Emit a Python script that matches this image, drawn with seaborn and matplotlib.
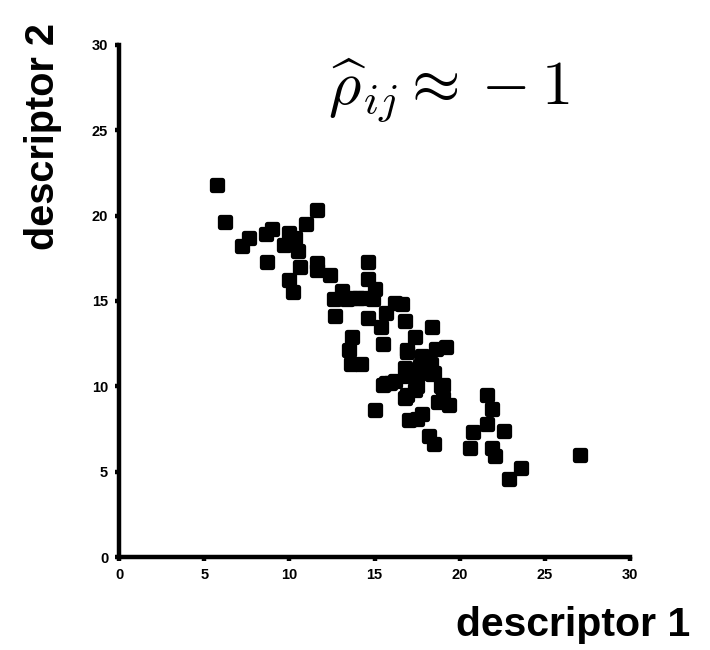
import matplotlib
matplotlib.use("Agg")
import matplotlib.pyplot as plt
from matplotlib.markers import MarkerStyle
import seaborn as sns
import pandas as pd

descriptor_1 = [5.75, 6.2, 7.2, 7.6, 8.6, 9.0, 8.7, 11.6, 11.0, 10.0, 10.3, 9.7, 10.5, 10.6,
                11.6, 11.6, 10.0, 10.2, 12.4, 14.6, 14.6, 15.0, 13.1, 12.6, 13.7, 14.3, 14.9,
                16.2, 16.6, 12.7, 14.6, 15.7, 15.4, 16.8, 18.4, 17.4, 13.7, 13.5, 15.5, 16.9,
                17.8, 18.6, 19.2, 13.6, 14.2, 16.8, 17.7, 18.3, 15.7, 16.2, 16.9, 17.5, 18.5,
                19.0, 16.9, 19.0, 16.9, 17.9, 18.4, 17.6, 15.9, 15.5, 18.9, 17.4, 16.8, 18.75,
                19.4, 17.8, 17.0, 17.5, 18.2, 18.5, 21.6, 21.9, 21.6, 22.6, 20.8, 20.6, 21.9,
                22.1, 23.6, 22.9, 27.1, 15.0, 13.4, 14.0]
descriptor_2 = [21.8, 19.6, 18.2, 18.7, 18.9, 19.2, 17.3, 20.3, 19.5, 19.0, 18.7, 18.3, 17.9, 17.0,
                17.2, 16.8, 16.2, 15.5, 16.5, 17.3, 16.3, 15.7, 15.6, 15.1, 15.2, 15.2, 15.1,
                14.9, 14.8, 14.1, 14.0, 14.3, 13.5, 13.8, 13.5, 12.9, 12.9, 12.1, 12.5, 12.1,
                11.8, 12.2, 12.3, 11.3, 11.3, 11.1, 11.2, 11.3, 10.2, 10.3, 10.6, 10.0, 10.8,
                10.1, 9.5, 9.3, 12.0, 11.5, 10.7, 10.8, 10.2, 10.1, 10.0, 9.8, 9.3, 9.1,
                8.9, 8.4, 8.0, 8.1, 7.1, 6.6, 9.5, 8.7, 7.8, 7.4, 7.3, 6.4, 6.4,
                5.9, 5.2, 4.6, 6.0, 8.6, 15.1, 15.2]
x_ticks = [0, 5, 10, 15, 20, 25, 30]
y_ticks = [0, 5, 10, 15, 20, 25, 30]

sns.set_theme(style="white")
plt.rcParams['font.family'] = ['Liberation Sans', 'DejaVu Sans']
plt.rcParams['mathtext.fontset'] = 'cm'
plt.rcParams['text.color'] = 'black'
plt.rcParams['xtick.color'] = 'black'
plt.rcParams['ytick.color'] = 'black'

df = pd.DataFrame({"descriptor 1": descriptor_1, "descriptor 2": descriptor_2})

fig = plt.figure(figsize=(7.1, 6.5), dpi=100)
ax = fig.add_axes([0.168, 0.143, 0.719, 0.788])

sns.scatterplot(data=df, x="descriptor 1", y="descriptor 2", ax=ax,
                marker=MarkerStyle('s', joinstyle='round'), s=62,
                color='black', edgecolor='black', linewidth=3.8, clip_on=False)

ax.set_xlim(0, 30)
ax.set_ylim(0, 30)
ax.set_xticks(x_ticks)
ax.set_yticks(y_ticks)
ax.set_xticklabels([str(t) for t in x_ticks], fontsize=10.5, fontweight='bold')
ax.set_yticklabels([str(t) for t in y_ticks], fontsize=10.5, fontweight='bold')
for side in ['top', 'right']:
    ax.spines[side].set_visible(False)
for side in ['left', 'bottom']:
    ax.spines[side].set_linewidth(3.2)
    ax.spines[side].set_color('black')
ax.tick_params(axis='both', direction='out', length=3, width=3.2, color='black', pad=5,
               left=True, bottom=True, labelcolor='black')

ax.set_xlabel('')
ax.set_ylabel('')
fig.text(0.972, 0.038, 'descriptor 1', ha='right', va='center', fontsize=29.5,
         fontweight='bold', color='black')
fig.text(0.06, 0.79, 'descriptor 2', ha='center', va='center', rotation=90,
         fontsize=28.5, fontweight='bold', color='black')
ax.text(0.645, 0.912, r'$\widehat{\rho}_{ij} \approx -1$', transform=ax.transAxes,
        ha='center', va='center', fontsize=45, color='black')

fig.savefig('out.png', dpi=100)
